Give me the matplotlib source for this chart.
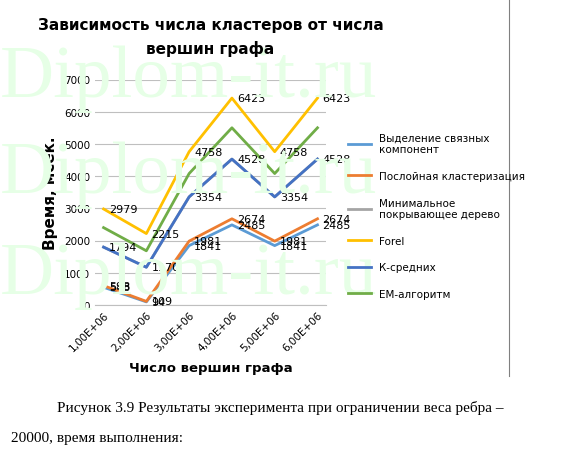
import matplotlib
matplotlib.use("Agg")
import matplotlib.pyplot as plt

x_labels = ["1,00E+06", "2,00E+06", "3,00E+06", "4,00E+06", "5,00E+06", "6,00E+06"]
comp = [548, 94, 1841, 2485, 1841, 2485]
layer = [598, 109, 1981, 2674, 1981, 2674]
mst = [1794, 1170, 3354, 4528, 3354, 4528]
forel = [2979, 2215, 4758, 6423, 4758, 6423]
kmeans = [1794, 1170, 3354, 4528, 3354, 4528]
em = [2400, 1680, 4080, 5500, 4080, 5500]

names = ["Выделение связных\nкомпонент", "Послойная кластеризация",
         "Минимальное\nпокрывающее дерево", "Forel", "К-средних", "EM-алгоритм"]
series = [comp, layer, mst, forel, kmeans, em]
colors = ["#5B9BD5", "#ED7D31", "#A5A5A5", "#FFC000", "#4472C4", "#70AD47"]
labeled = [True, True, False, True, True, False]

plt.rcParams["font.family"] = ["DejaVu Sans"]
fig = plt.figure(figsize=(5.69, 4.60), dpi=100)

# watermark behind everything
for y in [0.79, 0.58, 0.36]:
    fig.text(0.0, y, "Diplom-it.ru", fontsize=54, family="Liberation Serif",
             color="#E6FFE6", zorder=0)

ax = fig.add_axes([0.167, 0.335, 0.406, 0.49])
ax.patch.set_alpha(0)
xs = range(len(x_labels))
order = [0, 1, 2, 3, 5, 4]
for i in order:
    ax.plot(xs, series[i], color=colors[i], lw=2, label=names[i], zorder=3 if i == 4 else 2)
for i, s in enumerate(series):
    if labeled[i]:
        for xi, v in zip(xs, s):
            ax.text(xi + 0.12, v, str(v), fontsize=8, va="center", ha="left", zorder=5)

ax.set_ylim(0, 7000)
ax.set_xlim(-0.2, 5.2)
ax.set_yticks(range(0, 7001, 1000))
ax.set_xticks(list(xs))
ax.set_xticklabels(x_labels, rotation=45, ha="right", rotation_mode="anchor", fontsize=7.5)
ax.tick_params(axis="y", labelsize=7.5, length=0)
ax.tick_params(axis="x", length=0)
ax.grid(axis="y", color="#BFBFBF", lw=0.8)
for sp in ["top", "right", "left"]:
    ax.spines[sp].set_visible(False)
ax.spines["bottom"].set_color("#BFBFBF")
ax.set_ylabel("Время, мсек.", fontsize=11, fontweight="bold")
ax.set_xlabel("Число вершин графа", fontsize=9.5, fontweight="bold", labelpad=6)

h, l = ax.get_legend_handles_labels()
hmap = dict(zip(l, h))
fig.legend([hmap[n] for n in names], names, loc="upper left",
           bbox_to_anchor=(0.595, 0.73), frameon=False, fontsize=7.5,
           handlelength=2.2, labelspacing=1.6)

fig.text(0.37, 0.96, "Зависимость числа кластеров от числа\nвершин графа",
         ha="center", va="top", fontsize=11, fontweight="bold", linespacing=1.6)
fig.add_artist(plt.Line2D([0.895, 0.895], [0.18, 1.0], color="#808080", lw=0.8))

fig.text(0.1, 0.105, "Рисунок 3.9 Результаты эксперимента при ограничении веса ребра –",
         fontsize=11, family="Liberation Serif")
fig.text(0.02, 0.04, "20000, время выполнения:", fontsize=11, family="Liberation Serif")
fig.savefig("out.png", dpi=100)
